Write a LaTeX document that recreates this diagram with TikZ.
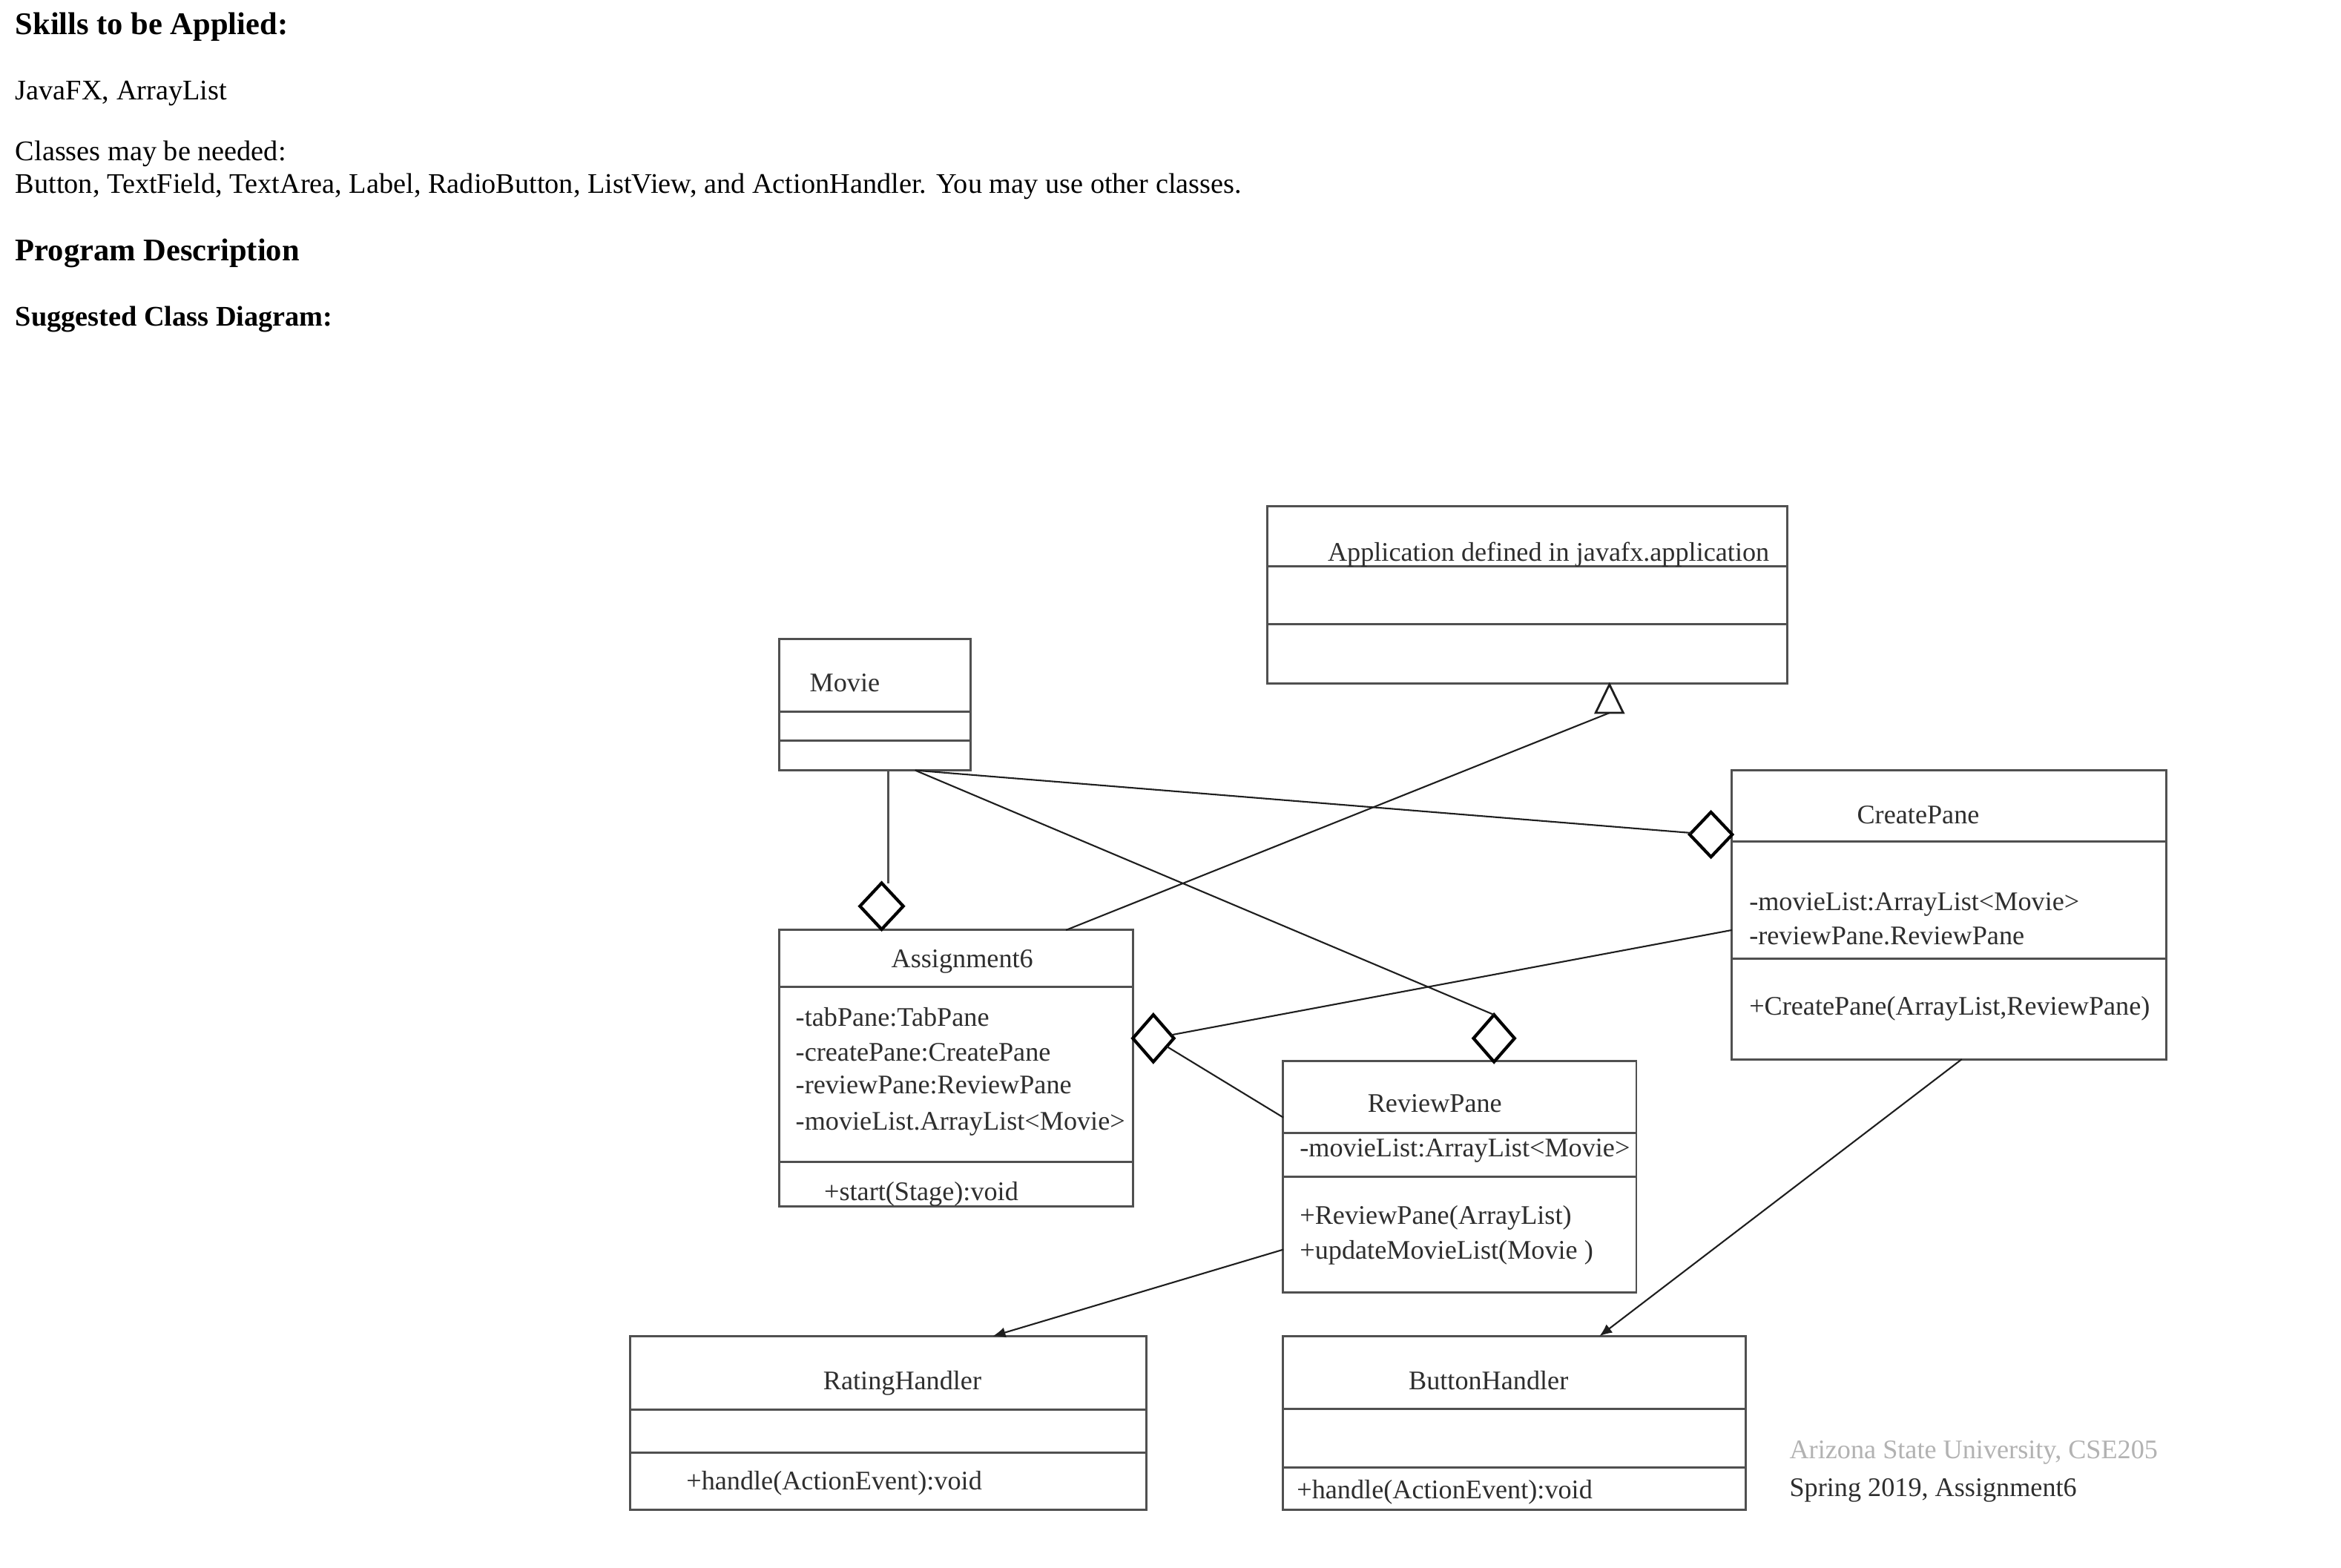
\documentclass[tikz,border=0pt]{standalone}
\usepackage{fontspec}
\setmainfont{Liberation Serif}
\usetikzlibrary{shapes.geometric,arrows.meta,calc}
\definecolor{boxc}{HTML}{505050}
\definecolor{linec}{HTML}{1E1E1E}
\definecolor{txtc}{HTML}{2E2E2E}
\newdimen\ux \ux=0.020128cm
\begin{document}
\begin{tikzpicture}[x=0.020128cm,y=-0.020128cm,
  cls/.style={draw=boxc,line width=0.85pt,anchor=north west,inner sep=0pt,outer sep=0pt},
  dv/.style={draw=boxc,line width=0.85pt},
  ct/.style={font=\fontsize{10.3}{12}\selectfont,text=txtc,inner sep=0pt,anchor=base west},
  ctc/.style={ct,anchor=base},
  hd/.style={font=\fontsize{10.9}{13}\selectfont,inner sep=0pt,anchor=base west},
  hb/.style={font=\fontsize{12.1}{14}\selectfont\bfseries,inner sep=0pt,anchor=base west},
  hs/.style={font=\fontsize{10.9}{13}\selectfont\bfseries,inner sep=0pt,anchor=base west},
  agg/.style={diamond,draw=black,fill=white,line width=1.2pt,inner sep=0pt,outer sep=0pt},
  conn/.style={draw=linec,line width=0.6pt},
  arr/.style={conn,-{Latex[length=1.7mm,width=1.4mm]}},
]
\fill[white] (0,0) rectangle (1568,1050);
\useasboundingbox (0,0) rectangle (1568,1050);

% ---- header text ----
\node[hb] (h1) at (10,23.2) {Skills to be Applied:};
\node[hd] (h2) at (10,67) {JavaFX, ArrayList};
\node[hd] (h3) at (10,107.7) {Classes may be needed:};
\node[hd] (h4) at (10,129.3) {Button, TextField, TextArea, Label, RadioButton, ListView, and ActionHandler. You may use other classes.};
\node[hb] (h5) at (10,174.7) {Program Description};
\node[hs] (h6) at (10,218.6) {Suggested Class Diagram:};

% ---- class boxes ----
\node[cls,minimum width=348\ux,minimum height=119\ux] (app) at (849,339) {};
\draw[dv] (849,379.5) -- (1197,379.5);
\draw[dv] (849,418) -- (1197,418);
\node[ct] (appT) at (889,376) {Application defined in javafx.application};

\node[cls,minimum width=128\ux,minimum height=88\ux] (movie) at (522,428) {};
\draw[dv] (522,476.5) -- (650,476.5);
\draw[dv] (522,496) -- (650,496);
\node[ct] (movieT) at (542,463.5) {Movie};

\node[cls,minimum width=237\ux,minimum height=185\ux] (a6) at (522,623) {};
\draw[dv] (522,661) -- (759,661);
\draw[dv] (522,778.5) -- (759,778.5);
\node[ctc] (a6T) at (644.5,648.3) {Assignment6};
\node[ct] (a6a1) at (532.6,687.2) {-tabPane:TabPane};
\node[ct] (a6a2) at (532.6,710.5) {-createPane:CreatePane};
\node[ct] (a6a3) at (532.6,732.8) {-reviewPane:ReviewPane};
\node[ct] (a6a4) at (532.6,756.8) {-movieList.ArrayList<Movie>};
\node[ct] (a6m1) at (551.7,804) {+start(Stage):void};

\node[cls,minimum width=236.5\ux,minimum height=155\ux] (rp) at (859.5,710.5) {};
\draw[dv] (859.5,758.8) -- (1096,758.8);
\draw[dv] (859.5,788.3) -- (1096,788.3);
\node[ctc] (rpT) at (961,745.2) {ReviewPane};
\node[ct] (rpa1) at (870.3,775) {-movieList:ArrayList<Movie>};
\node[ct] (rpm1) at (870.3,819.8) {+ReviewPane(ArrayList)};
\node[ct] (rpm2) at (870.3,843.6) {+updateMovieList(Movie )};

\node[cls,minimum width=291\ux,minimum height=193.5\ux] (cp) at (1160,516) {};
\draw[dv] (1160,563.7) -- (1451,563.7);
\draw[dv] (1160,642) -- (1451,642);
\node[ctc] (cpT) at (1284.8,551.9) {CreatePane};
\node[ct] (cpa1) at (1171.3,610.1) {-movieList:ArrayList<Movie>};
\node[ct] (cpa2) at (1171.3,632.7) {-reviewPane.ReviewPane};
\node[ct] (cpm1) at (1171.3,679.8) {+CreatePane(ArrayList,ReviewPane)};

\node[cls,minimum width=346\ux,minimum height=116.5\ux] (rh) at (422,895) {};
\draw[dv] (422,944) -- (768,944);
\draw[dv] (422,973.2) -- (768,973.2);
\node[ctc] (rhT) at (604.4,930.6) {RatingHandler};
\node[ct] (rhm1) at (459.4,998.1) {+handle(ActionEvent):void};

\node[cls,minimum width=310\ux,minimum height=116.5\ux] (bh) at (859.3,895) {};
\draw[dv] (859.3,943.6) -- (1169.3,943.6);
\draw[dv] (859.3,983) -- (1169.3,983);
\node[ctc] (bhT) at (997,930.7) {ButtonHandler};
\node[ct] (bhm1) at (868.3,1003.9) {+handle(ActionEvent):void};

% ---- footer note ----
\node[ct,text=black!30] (w1) at (1198.3,977) {Arizona State University, CSE205};
\node[ct] (w2) at (1198.3,1002.2) {Spring 2019, Assignment6};

% ---- aggregation diamonds ----
\node[agg,minimum width=29\ux,minimum height=31\ux] (dA1) at (590.5,607) {};
\node[agg,minimum width=28.5\ux,minimum height=30\ux] (dCP) at (1146,559) {};
\node[agg,minimum width=27.5\ux,minimum height=31.5\ux] (dRP) at (1000.7,695.5) {};
\node[agg,minimum width=27.5\ux,minimum height=31.5\ux] (dA6) at (772.5,695.5) {};

% ---- generalization triangle ----
\coordinate (triB) at (1078,477.5);
\draw[linec,line width=0.8pt,fill=white] ($(triB)+(-9.25,0)$) -- ($(triB)+(0,-19)$) -- ($(triB)+(9.25,0)$) -- cycle;

% ---- connectors ----
\coordinate (mvA) at ($(movie.south west)+(73,0)$);
\draw[dv,line width=0.7pt] (mvA) -- (mvA |- dA1.north);
\draw[conn] ($(movie.south west)+(91,0)$) -- (dCP);
\draw[conn] ($(movie.south west)+(91,0)$) -- (dRP.north);
\draw[conn] ($(a6.north west)+(192,0)$) -- (triB);
\draw[conn] ($(cp.north west)+(0,107)$) -- (dA6);
\draw[conn] ($(rp.north west)+(0,38)$) -- (dA6);
\draw[arr] ($(rp.north west)+(0,126.5)$) -- ($(rh.north west)+(243,0)$);
\draw[arr] ($(cp.south west)+(154,0)$) -- ($(bh.north west)+(212,0)$);
\end{tikzpicture}
\end{document}
